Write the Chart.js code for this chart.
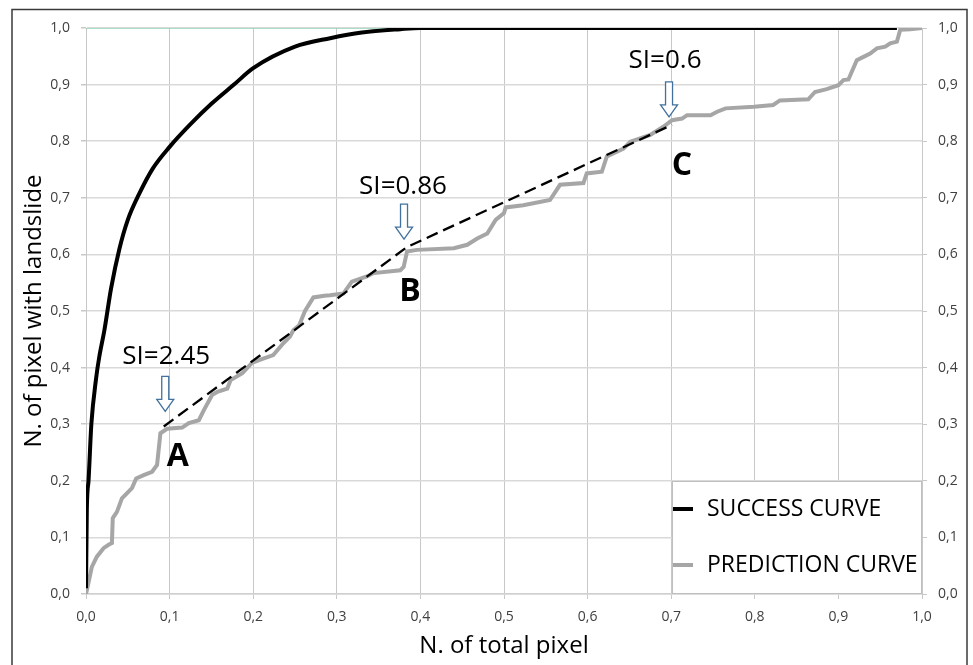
<!DOCTYPE html>
<html>
<head>
<meta charset="utf-8">
<script src="https://cdn.jsdelivr.net/npm/chart.js@4.4.1/dist/chart.umd.min.js"></script>
<style>
  body { margin: 0; background: #fff; }
  #wrap { width: 973px; height: 665px; }
</style>
</head>
<body>
<div id="wrap"><canvas id="myChart" width="973" height="665"></canvas></div>
<script>
// Success curve
const successX = [0, 0.001, 0.003, 0.0064, 0.012, 0.016, 0.022, 0.03, 0.04, 0.05, 0.063, 0.08, 0.1, 0.125, 0.15, 0.177, 0.2, 0.25, 0.292, 0.33, 0.376, 0.4, 0.97];
const successY = [0.01, 0.15, 0.2, 0.3, 0.38, 0.42, 0.466, 0.54, 0.61, 0.661, 0.705, 0.752, 0.79, 0.83, 0.866, 0.9, 0.929, 0.967, 0.982, 0.992, 0.998, 1.0, 1.0];

// Prediction curve
const predictionX = [0, 0.003, 0.007, 0.013, 0.021, 0.027, 0.031, 0.032, 0.037, 0.043, 0.055, 0.06, 0.069, 0.079, 0.085, 0.089, 0.097, 0.115, 0.123, 0.135, 0.141, 0.151, 0.157, 0.169, 0.173, 0.187, 0.199, 0.212, 0.224, 0.236, 0.244, 0.248, 0.255, 0.262, 0.272, 0.285, 0.292, 0.308, 0.318, 0.336, 0.344, 0.376, 0.38, 0.384, 0.396, 0.44, 0.456, 0.468, 0.48, 0.49, 0.5, 0.502, 0.523, 0.555, 0.567, 0.595, 0.599, 0.617, 0.623, 0.643, 0.651, 0.675, 0.691, 0.701, 0.713, 0.719, 0.747, 0.755, 0.765, 0.799, 0.822, 0.83, 0.864, 0.872, 0.886, 0.9, 0.906, 0.912, 0.922, 0.93, 0.938, 0.946, 0.956, 0.962, 0.97, 0.974, 0.986, 1.0];
const predictionY = [0, 0.02, 0.048, 0.066, 0.081, 0.087, 0.09, 0.134, 0.145, 0.169, 0.187, 0.204, 0.21, 0.216, 0.228, 0.284, 0.292, 0.294, 0.302, 0.307, 0.325, 0.352, 0.357, 0.363, 0.378, 0.39, 0.409, 0.416, 0.422, 0.443, 0.455, 0.466, 0.475, 0.5, 0.524, 0.527, 0.528, 0.531, 0.552, 0.561, 0.567, 0.572, 0.578, 0.605, 0.608, 0.611, 0.617, 0.628, 0.637, 0.661, 0.673, 0.683, 0.687, 0.696, 0.723, 0.726, 0.743, 0.746, 0.773, 0.787, 0.799, 0.811, 0.826, 0.837, 0.84, 0.846, 0.846, 0.852, 0.858, 0.861, 0.864, 0.872, 0.874, 0.887, 0.892, 0.899, 0.908, 0.909, 0.943, 0.949, 0.955, 0.964, 0.967, 0.973, 0.976, 0.997, 0.998, 1.0];

// Dashed trend through the break points A, B, C
const trendX = [0.093, 0.384, 0.701];
const trendY = [0.296, 0.613, 0.829];

// Thin green line along the top
const topLineX = [0, 0.97];
const topLineY = [1, 1];

const tickLabels = ['0,0', '0,1', '0,2', '0,3', '0,4', '0,5', '0,6', '0,7', '0,8', '0,9', '1,0'];
const seriesNames = ['SUCCESS CURVE', 'PREDICTION CURVE'];
const siLabels = ['SI=2.45', 'SI=0.86', 'SI=0.6'];
const pointNames = ['A', 'B', 'C'];

const FONT = "'Open Sans', 'Noto Sans', sans-serif";

function toPoints(xs, ys) {
  return xs.map((x, i) => ({ x: x, y: ys[i] }));
}

// pixel offsets of each annotation from its break point
const noteOffsets = [
  { text: [2.5, -70], arrow: [1.5, -15], name: [14, 30] },
  { text: [-4, -60], arrow: [-3, -8], name: [3, 45] },
  { text: [-7, -64], arrow: [-3, -8], name: [10, 41] }
];

function drawArrow(ctx, tx, ty) {
  ctx.beginPath();
  ctx.moveTo(tx - 3.5, ty - 35);
  ctx.lineTo(tx + 3.5, ty - 35);
  ctx.lineTo(tx + 3.5, ty - 12);
  ctx.lineTo(tx + 8.5, ty - 12);
  ctx.lineTo(tx, ty);
  ctx.lineTo(tx - 8.5, ty - 12);
  ctx.lineTo(tx - 3.5, ty - 12);
  ctx.closePath();
  ctx.fillStyle = '#fff';
  ctx.fill();
  ctx.strokeStyle = '#41719C';
  ctx.lineWidth = 1.3;
  ctx.stroke();
}

const annotationsPlugin = {
  id: 'annotations',
  afterDatasetsDraw(chart) {
    const ctx = chart.ctx;
    const xs = chart.scales.x, ys = chart.scales.y;
    ctx.save();
    ctx.textAlign = 'center';
    ctx.textBaseline = 'middle';
    trendX.forEach((bx, i) => {
      const px = xs.getPixelForValue(bx);
      const py = ys.getPixelForValue(trendY[i]);
      const off = noteOffsets[i];
      drawArrow(ctx, px + off.arrow[0], py + off.arrow[1]);
      ctx.fillStyle = '#000';
      ctx.font = '26px ' + FONT;
      ctx.fillText(siLabels[i], px + off.text[0], py + off.text[1]);
      ctx.font = 'bold 32px ' + FONT;
      ctx.fillText(pointNames[i], px + off.name[0], py + off.name[1]);
    });
    ctx.restore();
  }
};

const legendFramePlugin = {
  id: 'legendFrame',
  afterDraw(chart) {
    const ctx = chart.ctx;
    const area = chart.chartArea;
    ctx.save();
    // legend box
    const left = area.right - 250, top = area.bottom - 113;
    ctx.fillStyle = '#fff';
    ctx.fillRect(left, top, 250, 113);
    ctx.strokeStyle = '#BFBFBF';
    ctx.lineWidth = 1;
    ctx.strokeRect(left + 0.5, top + 0.5, 249, 112);
    ctx.font = '23px ' + FONT;
    ctx.textBaseline = 'middle';
    ctx.textAlign = 'left';
    [0, 2].forEach((dsIndex, i) => {
      const ds = chart.data.datasets[dsIndex];
      const y = top + 28 + i * 56;
      ctx.strokeStyle = ds.borderColor;
      ctx.lineWidth = ds.borderWidth;
      ctx.beginPath();
      ctx.moveTo(left + 1, y);
      ctx.lineTo(left + 21, y);
      ctx.stroke();
      ctx.fillStyle = '#000';
      ctx.fillText(seriesNames[i], left + 35, y);
    });
    // outer chart frame
    ctx.strokeStyle = '#3a3a3a';
    ctx.lineWidth = 1.5;
    ctx.strokeRect(12, 9.5, 955, 670);
    ctx.restore();
  }
};

const tickFormat = (value, index) => tickLabels[index];

const ctx = document.getElementById('myChart').getContext('2d');
const chart = new Chart(ctx, {
  type: 'line',
  data: {
    datasets: [
      {
        label: seriesNames[0],
        data: toPoints(successX, successY),
        borderColor: '#000000',
        borderWidth: 4,
        pointRadius: 0,
        cubicInterpolationMode: 'monotone',
        order: 1
      },
      {
        label: 'trend',
        data: toPoints(trendX, trendY),
        borderColor: '#000000',
        borderWidth: 2.3,
        borderDash: [12, 6],
        pointRadius: 0,
        order: 2
      },
      {
        label: seriesNames[1],
        data: toPoints(predictionX, predictionY),
        borderColor: '#A6A6A6',
        borderWidth: 4,
        pointRadius: 0,
        tension: 0,
        order: 3
      },
      {
        label: 'top',
        data: toPoints(topLineX, topLineY),
        borderColor: '#6CD3A0',
        borderWidth: 1.2,
        pointRadius: 0,
        order: 4
      }
    ]
  },
  options: {
    responsive: false,
    animation: false,
    layout: { padding: { top: 28, left: 0, right: 0, bottom: 0 } },
    plugins: {
      legend: { display: false },
      tooltip: { enabled: false }
    },
    scales: {
      x: {
        type: 'linear',
        min: 0,
        max: 1,
        ticks: {
          stepSize: 0.1,
          callback: tickFormat,
          font: { family: FONT, size: 14 },
          color: '#404040',
          padding: 10,
          maxRotation: 0
        },
        grid: { color: '#C8C8C8', lineWidth: 1, tickLength: 5, tickColor: '#C8C8C8' },
        border: { color: '#D0D0D0', width: 1.5 },
        title: {
          display: true,
          text: 'N. of total pixel',
          font: { family: FONT, size: 24 },
          color: '#000',
          padding: { top: 0, bottom: 4 }
        },
        afterFit(scale) { scale.height = 71; }
      },
      y: {
        type: 'linear',
        position: 'left',
        min: 0,
        max: 1,
        ticks: {
          stepSize: 0.1,
          callback: tickFormat,
          font: { family: FONT, size: 14 },
          color: '#404040',
          padding: 11
        },
        grid: { color: '#D9D9D9', lineWidth: 1.5, tickLength: 5, tickColor: '#C8C8C8' },
        border: { color: '#C8C8C8', width: 1 },
        title: {
          display: true,
          text: 'N. of pixel with landslide',
          font: { family: FONT, size: 24 },
          color: '#000',
          padding: { top: 20, bottom: 0 }
        },
        afterFit(scale) { scale.width = 86; }
      },
      y2: {
        type: 'linear',
        position: 'right',
        min: 0,
        max: 1,
        ticks: {
          stepSize: 0.1,
          callback: tickFormat,
          font: { family: FONT, size: 14 },
          color: '#404040',
          padding: 11
        },
        grid: { drawOnChartArea: false, tickLength: 5, tickColor: '#C8C8C8' },
        border: { color: '#C8C8C8', width: 1 },
        afterFit(scale) { scale.width = 51; }
      }
    }
  },
  plugins: [annotationsPlugin, legendFramePlugin]
});
</script>
</body>
</html>
